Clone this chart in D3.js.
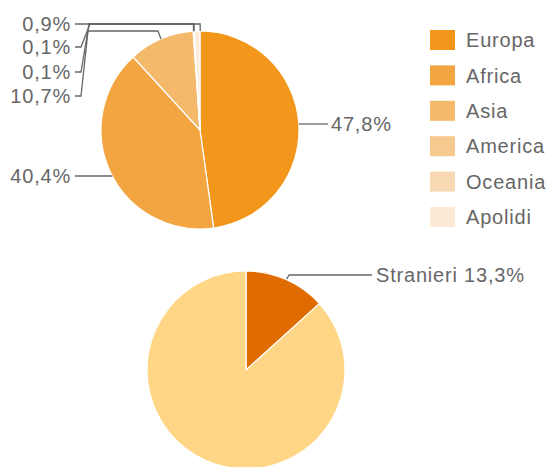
<!DOCTYPE html>
<html>
<head>
<meta charset="utf-8">
<script src="https://cdn.jsdelivr.net/npm/d3@7"></script>
<style>
  html, body { margin: 0; padding: 0; background: #fff; }
  svg text { font-family: "Liberation Sans", Arial, Helvetica, sans-serif; fill: #666; letter-spacing: 0.8px; }
</style>
</head>
<body>
<svg id="chart" width="548" height="467"></svg>
<script>
// Foreign residents by continent of origin (%)
const continents = ["Europa", "Africa", "Asia", "America", "Oceania", "Apolidi"];
const continentShares = [47.8, 40.4, 10.7, 0.1, 0.1, 0.9];
const continentColors = ["#f3961c", "#f2a541", "#f4b96a", "#f6c98e", "#f9d9b3", "#fce9d6"];

// Foreign residents vs. total population (%)
const groups = ["Stranieri", "Italiani"];
const groupShares = [13.3, 86.7];
const groupColors = ["#e06b00", "#fed685"];

const svg = d3.select("#chart");
const fmt = v => d3.format(".1f")(v).replace(".", ",") + "%";
const pie = d3.pie().sort(null).value(d => d.value);
const fontSize = 20;

// ---- upper pie ----
const upper = { cx: 200, cy: 130, r: 99 };
const upperData = pie(continents.map((c, i) => ({ name: c, value: continentShares[i], color: continentColors[i] })));
const arcUpper = d3.arc().innerRadius(0).outerRadius(upper.r);
svg.append("g").attr("transform", `translate(${upper.cx},${upper.cy})`)
  .selectAll("path").data(upperData).join("path")
  .attr("d", arcUpper)
  .attr("fill", d => d.data.color)
  .attr("stroke", "#fff")
  .attr("stroke-width", 1.2);

// point on the rim at the middle of a slice, in page coordinates
const rimPoint = (d, c) => {
  const a = (d.startAngle + d.endAngle) / 2;
  return [c.cx + c.r * Math.sin(a), c.cy - c.r * Math.cos(a)];
};
// x where a horizontal line at y meets the circle
const rimX = (y, c, side) => c.cx + side * Math.sqrt(c.r * c.r - (y - c.cy) * (y - c.cy));

const leader = svg.append("g").attr("fill", "none").attr("stroke", "#666").attr("stroke-width", 1.3);
const labels = svg.append("g").attr("font-size", fontSize);

const byName = {};
upperData.forEach(d => byName[d.data.name] = d);

// large slices: straight horizontal leaders
[
  { name: "Europa", y: 124, side: 1, tx: 331 },
  { name: "Africa", y: 176, side: -1, tx: 71 }
].forEach(o => {
  const d = byName[o.name];
  const x0 = rimX(o.y, upper, o.side);
  const x1 = o.side > 0 ? o.tx - 3 : o.tx + 4;
  leader.append("path").attr("d", `M${x0},${o.y}H${x1}`);
  labels.append("text")
    .attr("x", o.tx).attr("y", o.y).attr("dy", "0.36em")
    .attr("text-anchor", o.side > 0 ? "start" : "end")
    .text(fmt(d.data.value));
});

// small slices: stacked labels on the upper left with elbow leaders
[
  { name: "Apolidi", y: 24, elbowY: 24 },
  { name: "Oceania", y: 47, elbowY: 24 },
  { name: "America", y: 72, elbowY: 24 },
  { name: "Asia",    y: 96, elbowY: 31 }
].forEach((o, i) => {
  const d = byName[o.name];
  const [px, py] = rimPoint(d, upper);
  let path;
  if (o.y === o.elbowY) {
    path = `M75,${o.y}H${px + 3}V${py}`;
  } else if (o.name === "Asia") {
    path = `M75,${o.y}H81L88,${o.elbowY}H${px - 3}L${px},${py}`;
  } else {
    path = `M75,${o.y}H81L${91 - i},${o.elbowY}H${px}V${py}`;
  }
  leader.append("path").attr("d", path);
  labels.append("text")
    .attr("x", 71).attr("y", o.y).attr("dy", "0.36em")
    .attr("text-anchor", "end")
    .text(fmt(d.data.value));
});

// legend
const legend = svg.append("g").attr("transform", "translate(430,30)");
const row = legend.selectAll("g").data(continents).join("g")
  .attr("transform", (d, i) => `translate(0,${i * 35.4})`);
row.append("rect").attr("width", 25).attr("height", 20).attr("fill", (d, i) => continentColors[i]);
row.append("text").attr("x", 36).attr("y", 10).attr("dy", "0.36em")
  .attr("font-size", fontSize).text(d => d);

// ---- lower pie ----
const lower = { cx: 246, cy: 370, r: 99 };
const lowerData = pie(groups.map((g, i) => ({ name: g, value: groupShares[i], color: groupColors[i] })));
const arcLower = d3.arc().innerRadius(0).outerRadius(lower.r);
svg.append("g").attr("transform", `translate(${lower.cx},${lower.cy})`)
  .selectAll("path").data(lowerData).join("path")
  .attr("d", arcLower)
  .attr("fill", d => d.data.color)
  .attr("stroke", "#fff")
  .attr("stroke-width", 1.2);

const s = lowerData[0];
const [sx, sy] = rimPoint(s, lower);
leader.append("path").attr("d", `M${sx},${sy}L${sx + 3},275H372`);
labels.append("text").attr("x", 376).attr("y", 275).attr("dy", "0.36em")
  .text(`${s.data.name} ${fmt(s.data.value)}`);
</script>
</body>
</html>
